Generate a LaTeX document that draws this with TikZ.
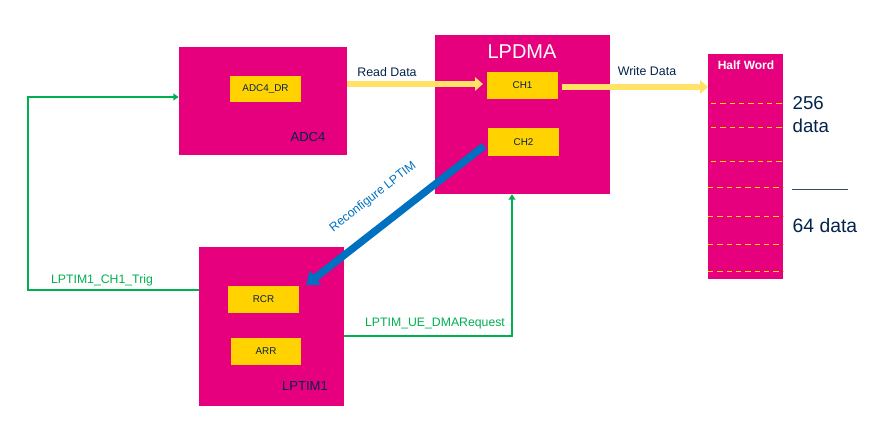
\documentclass[tikz,border=0pt]{standalone}
\usepackage{fontspec}
\setmainfont{Liberation Sans}
\usetikzlibrary{arrows.meta,fit,positioning}
\definecolor{stpink}{HTML}{E6007E}
\definecolor{styellow}{HTML}{FFD200}
\definecolor{stlight}{HTML}{FFE266}
\definecolor{stblue}{HTML}{0070C0}
\definecolor{stgreen}{HTML}{00B050}
\definecolor{stnavy}{HTML}{03234B}

\begin{document}
\begin{tikzpicture} [
      x = 0.75pt, y = -0.75pt,
      block/.style = { fill = stpink, draw = none, inner sep = 0 },
      reg/.style = { fill = styellow, draw = none, inner sep = 0, font = \fontsize{7.4}{8}\selectfont, text = stnavy },
      blockname/.style = { font = \fontsize{9.8}{11}\selectfont, text = stnavy },
      data/.style = { stlight, line width = 4.5pt, -{Triangle[width = 10pt, length = 6pt]} },
      trig/.style = { stgreen, line width = 1.5pt, -{Triangle[width = 5pt, length = 4pt]} },
      lbl/.style = { font = \fontsize{9.3}{10}\selectfont, text = stnavy },
      halfline/.style = { styellow, dashed, line width = 0.7pt, dash pattern = on 4pt off 3pt }
      ]
      \useasboundingbox (0,0) rectangle (874,424);

      % blocks
      \node [block, fit = {(179,47) (347,155)}] (adc) {};
      \node [block, fit = {(435,35) (610,194)}] (dma) {};
      \node [block, fit = {(199,247) (344,406)}] (tim) {};
      \node [block, fit = {(708,54) (783,279)}] (hw) {};

      % registers
      \node [reg, fit = {(230,76) (301,102)}] (adcdr) {};
      \node [reg] at (adcdr.center) {ADC4\_DR};
      \node [reg, fit = {(487,72) (558,99)}] (ch1) {};
      \node [reg] at (ch1.center) {CH1};
      \node [reg, fit = {(488,128) (559,156)}] (ch2) {};
      \node [reg] at (ch2.center) {CH2};
      \node [reg, fit = {(228,286) (299,313)}] (rcr) {};
      \node [reg] at (rcr.center) {RCR};
      \node [reg, fit = {(231,338) (301,365)}] (arr) {};
      \node [reg] at (arr.center) {ARR};

      % block names
      \node [blockname] (adcname) at (308,137) {ADC4};
      \node [blockname] (timname) at (305,386) {LPTIM1};
      \node [font = \fontsize{15}{16}\selectfont, text = white] (dmaname) at (522,52) {LPDMA};
      \node [font = \bfseries\fontsize{9}{10}\selectfont, text = white] (hwname) at (746,65) {Half Word};

      % half word slots
      \foreach \y/\xs in {103/711, 127/711, 161/711, 187/708, 216/708, 244/708, 271/708}
        \draw [halfline] (\xs,\y) -- (783,\y);

      \node [font = \fontsize{14}{17}\selectfont, text = stnavy, align = left, anchor = north west] (n256) at (788,92) {256\\data};
      \draw [stnavy!80, line width = 0.6pt] (792,189) -- (848,189);
      \node [font = \fontsize{14.5}{16}\selectfont, text = stnavy, anchor = west] (n64) at (788,226) {64 data};

      % data path
      \coordinate (rdstart) at (adc.east |- 0,84);
      \coordinate (rdend) at (483,84);
      \draw [data] (rdstart) -- (rdend);
      \node [lbl] (rdlbl) at (387,72) {Read Data};
      \coordinate (wdstart) at (562,87);
      \coordinate (wdend) at (708,87);
      \draw [data] (wdstart) -- (wdend);
      \node [lbl] (wdlbl) at (647,71) {Write Data};

      % reconfigure
      \coordinate (rcstart) at (484,146);
      \coordinate (rcend) at (306,285);
      \draw [stblue, line width = 5.5pt, -{Triangle[width = 13pt, length = 9pt]}] (rcstart) -- (rcend);
      \node [font = \fontsize{9.2}{10}\selectfont, text = stblue, rotate = 38] (rclbl) at (373,197) {Reconfigure LPTIM};

      % triggers
      \coordinate (trigL) at (28,97);
      \draw [trig] (tim.west |- 0,290) -| (trigL) -- (adc.west |- trigL);
      \node [font = \fontsize{9.2}{10}\selectfont, text = stgreen] (triglbl) at (102,280) {LPTIM1\_CH1\_Trig};
      \coordinate (reqR) at (512,336);
      \draw [trig] (tim.east |- reqR) -- (reqR) -- (reqR |- dma.south);
      \node [font = \fontsize{9.2}{10}\selectfont, text = stgreen] (reqlbl) at (435,324) {LPTIM\_UE\_DMARequest};
\end{tikzpicture}
\end{document}
